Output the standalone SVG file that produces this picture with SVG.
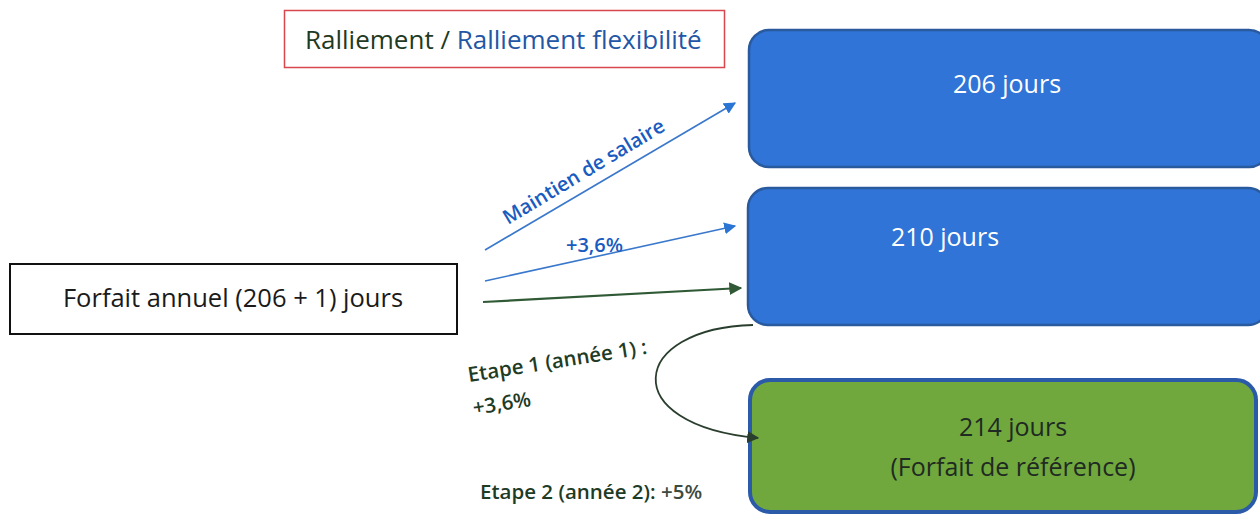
<svg xmlns="http://www.w3.org/2000/svg" width="1260" height="516" viewBox="0 0 1260 516">
<defs>
<style>
text{font-family:"Open Sans","Liberation Sans",sans-serif;}
.blue{fill:#2f74d6;stroke:#2a5a9e;stroke-width:2.5;}
.green{fill:#70a83e;stroke:#2a5aa8;stroke-width:4;}
.wt{fill:#ffffff;font-size:25px;}
.dk{fill:#1f2a22;font-size:25px;}
.lbl{fill:#1e3b26;font-size:20.5px;font-weight:600;}
.bl{fill:#1a5bbf;font-size:20px;font-weight:600;}
</style>
<marker id="ab" viewBox="0 0 10 10" refX="9" refY="5" markerWidth="12" markerHeight="12" markerUnits="userSpaceOnUse" orient="auto"><path d="M0,0 L10,5 L0,10 Z" fill="#2a74d4"/></marker>
<marker id="ag" viewBox="0 0 10 10" refX="9" refY="5" markerWidth="13" markerHeight="13" markerUnits="userSpaceOnUse" orient="auto"><path d="M0,0 L10,5 L0,10 Z" fill="#2f5a35"/></marker>
<marker id="ak" viewBox="0 0 10 10" refX="9" refY="5" markerWidth="12" markerHeight="12" markerUnits="userSpaceOnUse" orient="auto"><path d="M0,0 L10,5 L0,10 Z" fill="#2a3e2e"/></marker>
</defs>
<rect width="1260" height="516" fill="#ffffff"/>
<g id="title">
<rect x="284.5" y="10.5" width="440" height="57" fill="#ffffff" stroke="#d8464e" stroke-width="1.5"/>
<text x="305" y="49" font-size="26"><tspan fill="#1f3a22">Ralliement /</tspan><tspan fill="#2356a5"> Ralliement flexibilité</tspan></text>
</g>
<g id="n206">
<rect class="blue" x="749" y="30" width="520" height="137" rx="20"/>
<text class="wt" x="1007" y="93" text-anchor="middle">206 jours</text>
</g>
<g id="n210">
<rect class="blue" x="748" y="188" width="520" height="137" rx="20"/>
<text class="wt" x="945" y="246" text-anchor="middle">210 jours</text>
</g>
<g id="n214">
<rect class="green" x="750" y="380" width="506" height="132" rx="20"/>
<text class="dk" x="1013" y="436" text-anchor="middle">214 jours</text>
<text class="dk" x="1013" y="476" text-anchor="middle">(Forfait de référence)</text>
</g>
<g id="forfait">
<rect x="10" y="264" width="447" height="70" fill="#ffffff" stroke="#111111" stroke-width="2"/>
<text x="233" y="307" font-size="25.5" fill="#1a1a1a" text-anchor="middle">Forfait annuel (206 + 1) jours</text>
</g>
<g id="connectors" fill="none">
<line x1="485" y1="250" x2="735" y2="103" stroke="#3a78cc" stroke-width="1.6" marker-end="url(#ab)"/>
<line x1="485" y1="281" x2="735" y2="226" stroke="#3a78cc" stroke-width="1.6" marker-end="url(#ab)"/>
<line x1="483" y1="302" x2="741" y2="288" stroke="#2f5a35" stroke-width="2.2" marker-end="url(#ag)"/>
<path d="M753,325 C630,328 615,425 758,438" stroke="#2a3e2e" stroke-width="1.8" marker-end="url(#ak)"/>
</g>
<g id="labels">
<text class="bl" x="508" y="225" transform="rotate(-31 508 225)">Maintien de salaire</text>
<text class="bl" x="566" y="252">+3,6%</text>
<text class="lbl" x="469" y="382" transform="rotate(-9 469 382)">Etape 1 (année 1) :</text>
<text class="lbl" x="474" y="415" transform="rotate(-9 474 415)">+3,6%</text>
<text class="lbl" x="480" y="499">Etape 2 (année 2): <tspan fill="#3d4a40">+5%</tspan></text>
</g>
</svg>
